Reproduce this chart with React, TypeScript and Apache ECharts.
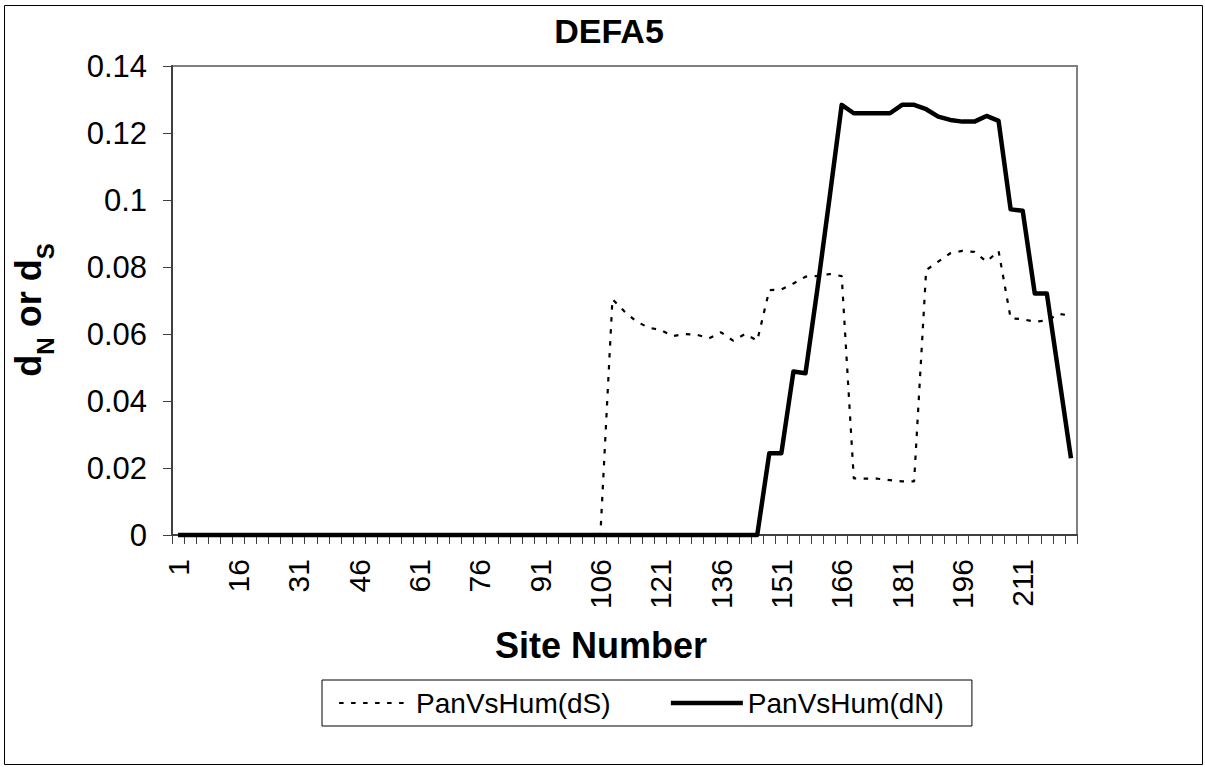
import React, { useEffect, useRef } from "react";
import * as echarts from "echarts";

const FONT = '"Liberation Sans", Arial, Helvetica, sans-serif';

const siteNumbers: number[] = [
  1, 4, 7, 10, 13, 16, 19, 22, 25, 28, 31, 34, 37, 40, 43, 46, 49, 52, 55, 58,
  61, 64, 67, 70, 73, 76, 79, 82, 85, 88, 91, 94, 97, 100, 103, 106, 109, 112, 115, 118,
  121, 124, 127, 130, 133, 136, 139, 142, 145, 148, 151, 154, 157, 160, 163, 166, 169, 172, 175, 178,
  181, 184, 187, 190, 193, 196, 199, 202, 205, 208, 211, 214, 217, 220, 223,
];

const panVsHumDS: number[] = [
  0, 0, 0, 0, 0, 0, 0, 0, 0, 0, 0, 0, 0, 0, 0, 0, 0, 0, 0, 0,
  0, 0, 0, 0, 0, 0, 0, 0, 0, 0, 0, 0, 0, 0, 0, 0,
  0.0704, 0.0667, 0.0637, 0.0619, 0.0612, 0.0594, 0.06, 0.0598, 0.0587, 0.0605, 0.058, 0.06, 0.058,
  0.0731, 0.0733, 0.0751, 0.0771, 0.0773, 0.0779, 0.0773,
  0.0169, 0.0168, 0.0168, 0.0164, 0.016, 0.016,
  0.0791, 0.0816, 0.0841, 0.0848, 0.0845, 0.0816, 0.0848,
  0.0647, 0.0644, 0.0637, 0.064, 0.066, 0.0655,
];

const panVsHumDN: number[] = [
  0, 0, 0, 0, 0, 0, 0, 0, 0, 0, 0, 0, 0, 0, 0, 0, 0, 0, 0, 0,
  0, 0, 0, 0, 0, 0, 0, 0, 0, 0, 0, 0, 0, 0, 0, 0, 0, 0, 0, 0,
  0, 0, 0, 0, 0, 0, 0, 0, 0,
  0.0244, 0.0244, 0.0488, 0.0483, 0.0738, 0.1008, 0.1284,
  0.1259, 0.1259, 0.1259, 0.1259, 0.1284, 0.1284, 0.1271, 0.1249, 0.1239, 0.1234, 0.1234, 0.1251, 0.1236,
  0.0972, 0.0968, 0.0721, 0.0721, 0.0475, 0.0229,
];

const seriesNames = ["PanVsHum(dS)", "PanVsHum(dN)"];
const chartTitle = "DEFA5";
const xTitle = "Site Number";

export default function App() {
  const ref = useRef<HTMLDivElement>(null);

  useEffect(() => {
    const chart = echarts.init(ref.current as HTMLDivElement, null, { renderer: "svg" });
    const dsLine = { color: "#000", width: 2.2, type: [4.5, 7.5] };
    const dnLine = { color: "#000", width: 4.5, join: "round" };
    chart.setOption({
      animation: false,
      backgroundColor: "#ffffff",
      textStyle: { fontFamily: FONT },
      title: {
        text: chartTitle,
        left: 609,
        top: 14,
        textAlign: "center",
        padding: 0,
        textStyle: { fontSize: 34, fontWeight: "bold", color: "#000", fontFamily: FONT },
      },
      grid: {
        left: 172,
        top: 66,
        width: 905,
        height: 469,
        show: true,
        borderColor: "#808080",
        borderWidth: 2,
        backgroundColor: "#ffffff",
      },
      xAxis: {
        type: "category",
        data: siteNumbers.map(String),
        boundaryGap: true,
        axisLine: { show: true, onZero: false, lineStyle: { color: "#404040", width: 2 } },
        axisTick: { show: true, interval: 0, length: 9, lineStyle: { color: "#404040", width: 1 } },
        axisLabel: {
          interval: 4,
          rotate: 90,
          margin: 24,
          fontSize: 30,
          color: "#000",
          fontFamily: FONT,
        },
        splitLine: { show: false },
      },
      yAxis: {
        type: "value",
        min: 0,
        max: 0.14,
        interval: 0.02,
        axisLine: { show: true, lineStyle: { color: "#404040", width: 2 } },
        axisTick: { show: true, length: 9, lineStyle: { color: "#404040", width: 1 } },
        axisLabel: {
          margin: 25,
          fontSize: 31,
          color: "#000",
          fontFamily: FONT,
          formatter: (v: number) => String(parseFloat(v.toFixed(2))),
        },
        splitLine: { show: false },
      },
      legend: {
        left: 322,
        top: 680,
        orient: "horizontal",
        padding: [9, 28, 9, 16],
        itemGap: 58,
        itemWidth: 72,
        itemHeight: 14,
        borderColor: "#000",
        borderWidth: 1,
        backgroundColor: "#fff",
        itemStyle: { opacity: 0 },
        textStyle: { fontSize: 28, color: "#000", fontFamily: FONT },
        data: [
          { name: seriesNames[0], lineStyle: dsLine },
          { name: seriesNames[1], lineStyle: dnLine },
        ],
      },
      series: [
        {
          name: seriesNames[0],
          type: "line",
          data: panVsHumDS,
          symbol: "none",
          clip: false,
          z: 2,
          itemStyle: { color: "#000" },
          lineStyle: dsLine,
        },
        {
          name: seriesNames[1],
          type: "line",
          data: panVsHumDN,
          symbol: "none",
          clip: false,
          z: 3,
          itemStyle: { color: "#000" },
          lineStyle: dnLine,
        },
      ],
      graphic: [
        {
          type: "rect",
          silent: true,
          z: 100,
          shape: { x: 4.5, y: 5.5, width: 1198, height: 759 },
          style: { fill: "none", stroke: "#000", lineWidth: 1 },
        },
        {
          type: "text",
          x: 601,
          y: 645,
          style: {
            text: xTitle,
            fontSize: 36,
            fontWeight: "bold",
            fontFamily: FONT,
            fill: "#000",
            align: "center",
            textAlign: "center",
            verticalAlign: "middle",
            textVerticalAlign: "middle",
          },
        },
        {
          type: "text",
          x: 39,
          y: 310,
          rotation: Math.PI / 2,
          style: {
            text: "{b|d}{s|N}{b| or d}{s|S}",
            align: "center",
            textAlign: "center",
            verticalAlign: "middle",
            textVerticalAlign: "middle",
            fill: "#000",
            rich: {
              b: {
                fontSize: 36,
                fontWeight: "bold",
                fontFamily: FONT,
                fill: "#000",
                lineHeight: 36,
                verticalAlign: "bottom",
                padding: [0, 0, 11, 0],
              },
              s: {
                fontSize: 24,
                fontWeight: "bold",
                fontFamily: FONT,
                fill: "#000",
                lineHeight: 24,
                verticalAlign: "bottom",
              },
            },
          },
        },
      ],
    });
    return () => chart.dispose();
  }, []);

  return (
    <div
      ref={ref}
      style={{ position: "absolute", left: 0, top: 0, width: 1205, height: 767, background: "#fff" }}
    />
  );
}
